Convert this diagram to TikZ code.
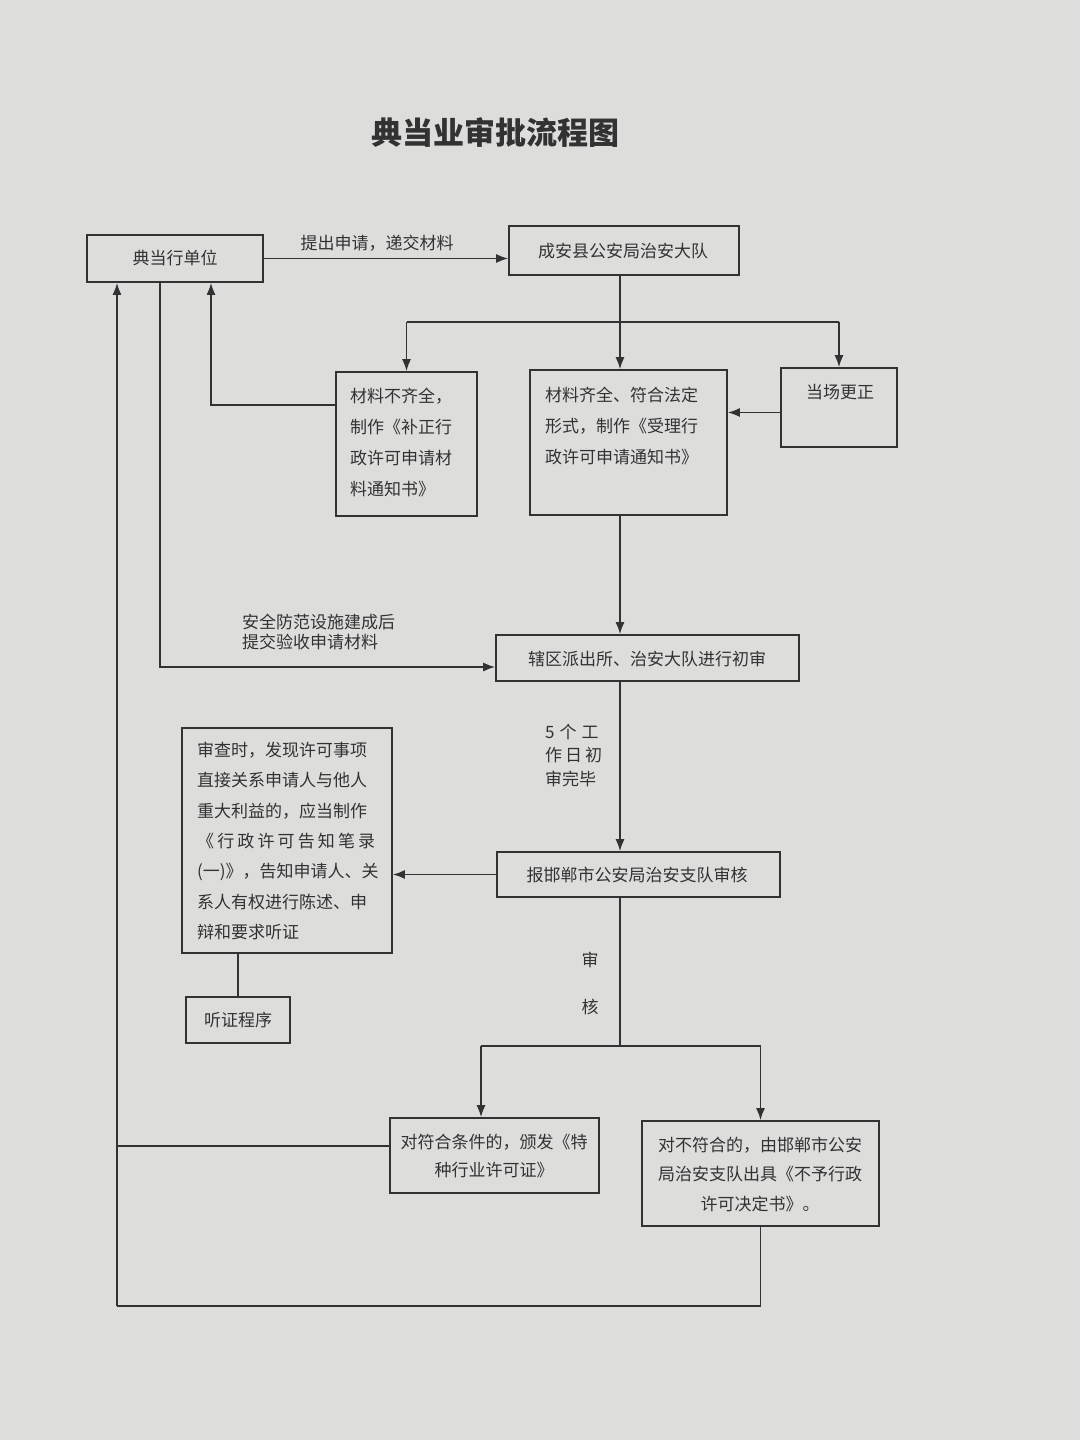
\documentclass[tikz,border=0pt]{standalone}
\usepackage{fontspec}
\setmainfont{Noto Sans CJK SC}
\usetikzlibrary{arrows.meta}
\definecolor{paper}{RGB}{221,222,220}
\definecolor{ink}{RGB}{50,50,50}
\begin{document}
\begin{tikzpicture}[x=1pt,y=-1pt,
  box/.style 2 args={draw=ink, line width=1.7pt, minimum width=#1, minimum height=#2, inner sep=0pt},
  txt/.style={text=ink, inner sep=0pt, font=\fontsize{17}{31}\selectfont},
  ln/.style={draw=ink, line width=1.6pt},
  arr/.style={draw=ink, line width=1.6pt, -{Latex[length=12pt,width=9pt]}}]
\fill[paper] (0,0) rectangle (1080,1440);
\useasboundingbox (0,0) rectangle (1080,1440);

% title
\node[txt, font=\fontsize{31}{31}\selectfont\bfseries] (title) at (495,133) {典当业审批流程图};

% boxes
\node[box={176}{47}] (A) at (175,258.5) {};
\node[box={230}{49}] (B) at (624,250.5) {};
\node[box={141}{144}] (C) at (406.5,444) {};
\node[box={197}{145}] (D) at (628.5,442.5) {};
\node[box={116}{79}] (E) at (839,407.5) {};
\node[box={303}{46}] (F) at (647.5,658) {};
\node[box={283}{45}] (G) at (638.5,874.5) {};
\node[box={210}{225}] (H) at (287,840.5) {};
\node[box={104}{46}] (I) at (238,1020) {};
\node[box={209}{75}] (J) at (494.5,1155.5) {};
\node[box={237}{105}] (K) at (760.5,1173.5) {};

% box texts
\node[txt] (tA) at (175,258) {典当行单位};
\node[txt] (tB) at (623,251) {成安县公安局治安大队};
\node[txt, anchor=west, align=left] (tC) at (350,442.5) {材料不齐全，\\制作《补正行\\政许可申请材\\料通知书》};
\node[txt, anchor=west, align=left] (tD) at (545,426) {材料齐全、符合法定\\形式，制作《受理行\\政许可申请通知书》};
\node[txt] (tE) at (840,392) {当场更正};
\node[txt] (tF) at (647,659) {辖区派出所、治安大队进行初审};
\node[txt] (tG) at (637,875) {报邯郸市公安局治安支队审核};
\node[txt, anchor=west, align=left, font=\fontsize{17}{30.3}\selectfont] (tH) at (197,841)
  {审查时，发现许可事项\\直接关系申请人与他人\\重大利益的，应当制作\\\makebox[178pt][s]{《\hfil 行\hfil 政\hfil 许\hfil 可\hfil 告\hfil 知\hfil 笔\hfil 录}\\(一)》，告知申请人、关\\系人有权进行陈述、申\\辩和要求听证};
\node[txt] (tI) at (238,1020) {听证程序};
\node[txt, align=center, font=\fontsize{17}{28}\selectfont] (tJ) at (494,1156) {对符合条件的，颁发《特\\种行业许可证》};
\node[txt, align=center, font=\fontsize{17}{29.5}\selectfont] (tK) at (760,1174.5) {对不符合的，由邯郸市公安\\局治安支队出具《不予行政\\许可决定书》。};

% connector labels
\node[txt] (l1) at (377,243) {提出申请，递交材料};
\node[txt, anchor=west, align=left, font=\fontsize{17}{20}\selectfont] (l2) at (242,632) {安全防范设施建成后\\提交验收申请材料};
\node[txt, anchor=west, align=left, font=\fontsize{17}{23.5}\selectfont] (l3) at (545,755.5) {5\hspace{5pt}个\hspace{5pt}工\\作\hspace{3pt}日\hspace{3pt}初\\审完毕};
\node[txt] (l4) at (590,960) {审};
\node[txt] (l5) at (590,1007) {核};

% helper coordinates
\coordinate (ax) at (620,0);
\coordinate (br1) at (0,322);
\coordinate (br2) at (0,1046);
\coordinate (jb) at (481,1046);
\coordinate (lb) at (117,1306);

% connectors
\draw[arr] (A.east) -- (A.east -| B.west);
\draw[arr] (ax |- B.south) -- (ax |- D.north);
\draw[ln] (C.north |- br1) -- (E.north |- br1);
\draw[arr] (C.north |- br1) -- (C.north);
\draw[arr] (E.north |- br1) -- (E.north);
\draw[arr] ([yshift=39pt]C.west) -| ([xshift=36pt]A.south);
\draw[arr] ([yshift=-5pt]E.west) -- ([yshift=-5pt]E.west -| D.east);
\draw[arr] (ax |- D.south) -- (ax |- F.north);
\draw[arr] ([xshift=-15pt]A.south) |- ([yshift=-9pt]F.west);
\draw[arr] (ax |- F.south) -- (ax |- G.north);
\draw[arr] (G.west) -- (G.west -| H.east);
\draw[ln] (I.north |- H.south) -- (I.north);
\draw[ln] (ax |- G.south) -- (ax |- br2);
\draw[ln] (jb) -- (K.north |- br2);
\draw[arr] (jb) -- (jb |- J.north);
\draw[arr] (K.north |- br2) -- (K.north);
\draw[ln] (K.south) |- (lb);
\draw[arr] (lb) -- (lb |- A.south);
\draw[ln] ([yshift=9.5pt]J.west) -- ([yshift=9.5pt]J.west -| lb);
\end{tikzpicture}
\end{document}
